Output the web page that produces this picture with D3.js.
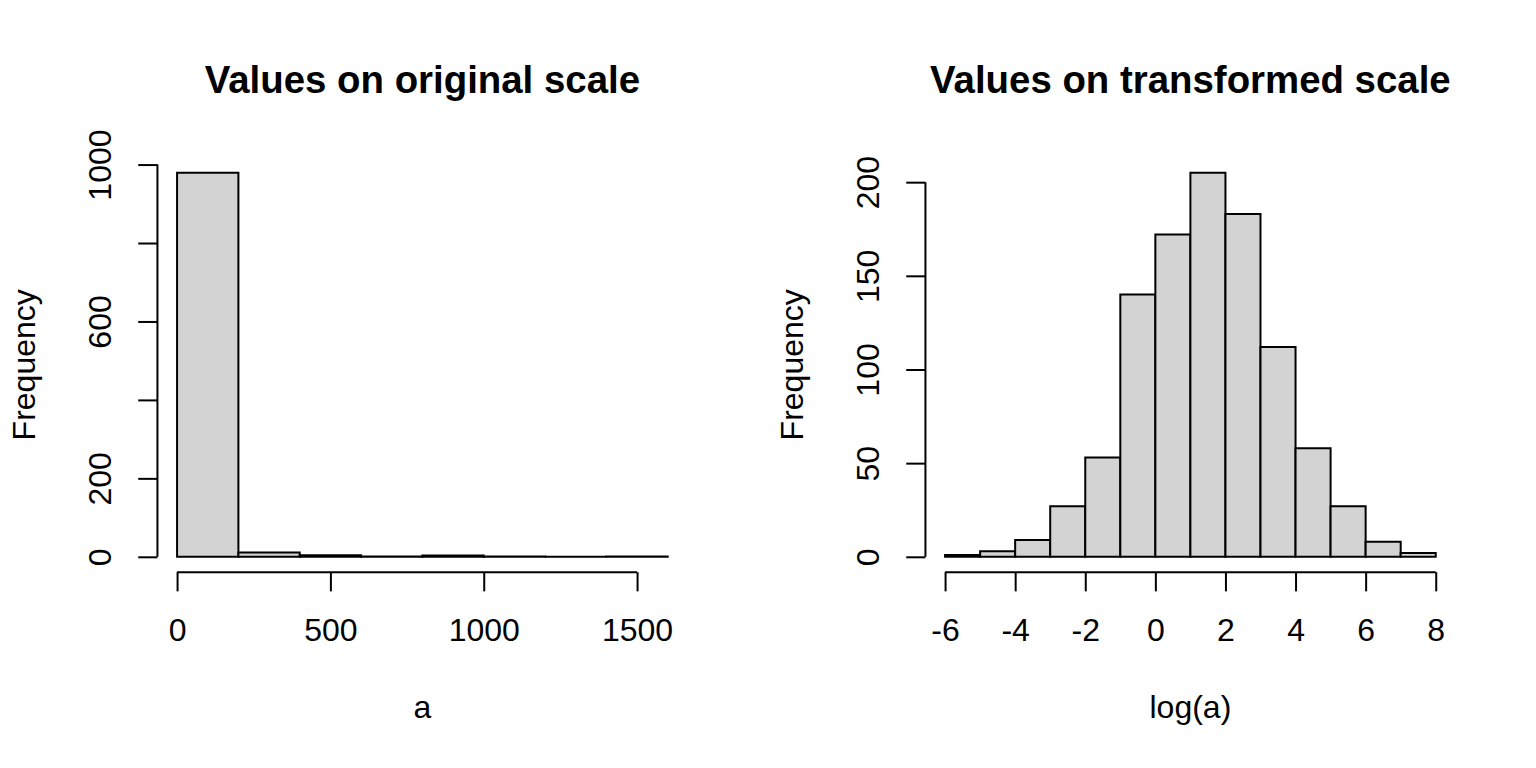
<!DOCTYPE html>
<html>
<head>
<meta charset="utf-8">
<script src="https://cdn.jsdelivr.net/npm/d3@7"></script>
<style>
  html, body { margin: 0; padding: 0; background: #fff; }
  svg { display: block; font-family: "Liberation Sans", Arial, sans-serif; }
</style>
</head>
<body>
<svg id="chart" width="1536" height="768"></svg>
<script>
// histogram of a (original scale)
const origBreaks = [0, 200, 400, 600, 800, 1000, 1200, 1400, 1600];
const origCounts = [979, 11, 4, 1, 3, 1, 0, 1];
const origXTicks = [0, 500, 1000, 1500];
const origYTicks = [0, 200, 400, 600, 800, 1000];
const origYTickLabels = ["0", "200", "", "600", "", "1000"];

// histogram of log(a)
const logBreaks = [-6, -5, -4, -3, -2, -1, 0, 1, 2, 3, 4, 5, 6, 7, 8];
const logCounts = [1, 3, 9, 27, 53, 140, 172, 205, 183, 112, 58, 27, 8, 2];
const logXTicks = [-6, -4, -2, 0, 2, 4, 6, 8];
const logYTicks = [0, 50, 100, 150, 200];
const logYTickLabels = ["0", "50", "100", "150", "200"];

const panels = [
  { title: "Values on original scale", xlab: "a", breaks: origBreaks, counts: origCounts,
    xTicks: origXTicks, yTicks: origYTicks, yLabels: origYTickLabels },
  { title: "Values on transformed scale", xlab: "log(a)", breaks: logBreaks, counts: logCounts,
    xTicks: logXTicks, yTicks: logYTicks, yLabels: logYTickLabels }
];

// R-like device: 192 dpi, one margin line = 0.2in
const lh = 38.4;
const panelW = 768, H = 768;
const mar = { bottom: 5.1 * lh, left: 4.1 * lh, top: 4.1 * lh, right: 2.1 * lh };
const tickLen = 0.5 * lh;
const fs = 32;

const svg = d3.select("#chart");

// pad a range by 4% on each side, like R's xaxs/yaxs = "r"
function padded(lo, hi) {
  const d = (hi - lo) * 0.04;
  return [lo - d, hi + d];
}

panels.forEach((p, i) => {
  const ox = i * panelW;
  const left = ox + mar.left, right = ox + panelW - mar.right;
  const top = mar.top, bottom = H - mar.bottom;

  const x = d3.scaleLinear()
    .domain(padded(p.breaks[0], p.breaks[p.breaks.length - 1]))
    .range([left, right]);
  const y = d3.scaleLinear()
    .domain(padded(0, d3.max(p.counts)))
    .range([bottom, top]);

  const g = svg.append("g");

  // bars as paths so that empty bins still show a line on the baseline
  g.selectAll("path.bar")
    .data(p.counts)
    .enter().append("path")
    .attr("class", "bar")
    .attr("d", (d, j) => {
      const x0 = x(p.breaks[j]), x1 = x(p.breaks[j + 1]);
      return `M${x0},${y(0)}V${y(d)}H${x1}V${y(0)}Z`;
    })
    .attr("fill", "#d3d3d3")
    .attr("stroke", "#000")
    .attr("stroke-width", 2);

  // x axis, line only from first to last tick
  const xAxis = g.append("g")
    .attr("transform", `translate(0,${bottom})`)
    .call(d3.axisBottom(x).tickValues(p.xTicks).tickFormat(d3.format("d"))
      .tickSize(tickLen).tickSizeOuter(0));
  xAxis.select(".domain")
    .attr("d", `M${x(p.xTicks[0])},0H${x(p.xTicks[p.xTicks.length - 1])}`)
    .attr("stroke-width", 2);
  xAxis.selectAll("line").attr("stroke-width", 2);
  xAxis.selectAll("text")
    .attr("y", 1.8 * lh)
    .attr("dy", null)
    .attr("font-size", fs)
    .attr("font-family", "Liberation Sans, Arial, sans-serif")
    .attr("fill", "#000")
    .text(d => String(d));

  // y axis
  const yAxis = g.append("g")
    .attr("transform", `translate(${left},0)`)
    .call(d3.axisLeft(y).tickValues(p.yTicks).tickSize(tickLen).tickSizeOuter(0));
  yAxis.select(".domain")
    .attr("d", `M0,${y(p.yTicks[0])}V${y(p.yTicks[p.yTicks.length - 1])}`)
    .attr("stroke-width", 2);
  yAxis.selectAll("line").attr("stroke-width", 2);
  yAxis.selectAll("text")
    .attr("x", 0)
    .attr("dy", null)
    .attr("text-anchor", "middle")
    .attr("transform", `translate(${-1.2 * lh},0) rotate(-90)`)
    .attr("font-size", fs)
    .attr("font-family", "Liberation Sans, Arial, sans-serif")
    .attr("fill", "#000")
    .text((d, j) => p.yLabels[j]);

  // titles
  const cx = (left + right) / 2;
  g.append("text")
    .attr("x", cx).attr("y", 92.7)
    .attr("text-anchor", "middle")
    .attr("font-size", fs * 1.2)
    .attr("font-weight", "bold")
    .text(p.title);

  g.append("text")
    .attr("x", cx).attr("y", bottom + 3.8 * lh)
    .attr("text-anchor", "middle")
    .attr("font-size", fs)
    .text(p.xlab);

  g.append("text")
    .attr("transform", `translate(${left - 3.2 * lh},${(top + bottom) / 2}) rotate(-90)`)
    .attr("text-anchor", "middle")
    .attr("font-size", fs)
    .text("Frequency");
});
</script>
</body>
</html>
